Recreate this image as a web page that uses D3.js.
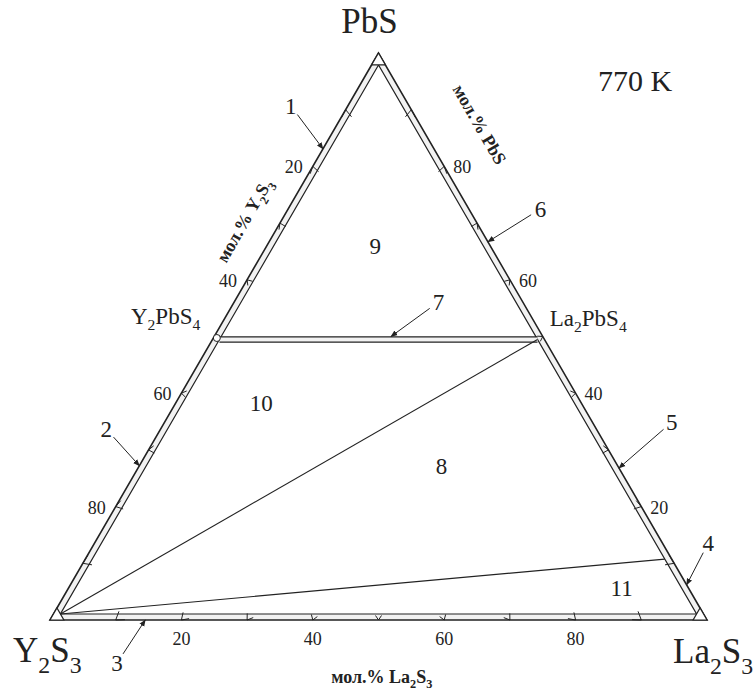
<!DOCTYPE html>
<html>
<head>
<meta charset="utf-8">
<script src="https://cdn.jsdelivr.net/npm/d3@7"></script>
<style>
body { margin: 0; background: #fff; }
svg text { font-family: "Liberation Serif", "DejaVu Serif", serif; fill: #222; }
</style>
</head>
<body>
<div id="chart"></div>
<script>
// compositions are [mol.% PbS, mol.% La2S3]; Y2S3 is the rest
var corners = ["PbS", "Y2S3", "La2S3"];
var cornerComp = [[100, 0], [0, 0], [0, 100]];
var tickSteps = [10, 20, 30, 40, 50, 60, 70, 80, 90];
var tickLabels = [20, 40, 60, 80];

var compounds = ["Y2PbS4", "La2PbS4"];
var compoundComp = [[50, 0], [50, 50]];

var tieFrom = [[50, 0], [0, 0], [0, 0]];
var tieTo = [[50, 50], [50, 50], [10, 90]];
var tieDouble = [true, false, false];

var fieldNames = ["9", "10", "8", "11"];
var fieldComp = [[66, 16.5], [38.3, 13], [27.2, 46], [5.6, 84.2]];

var arrowNames = ["1", "2", "3", "4", "5", "6", "7"];
var arrowTarget = [[83.1, 0], [27.2, 0], [0, 14.5], [6.2, 93.8], [26.8, 73.2], [66.7, 33.3], [50, 26.9]];
var arrowLabel = [[90.7, -8.7], [33.7, -8.3], [-7.6, 14], [13.6, 93.4], [34.9, 77.2], [72.5, 38.4], [56.1, 31.1]];

var temperature = "770 K";

var W = 753, H = 691, band = 6;
var serif = "Liberation Serif";

var svg = d3.select("#chart").append("svg").attr("width", W).attr("height", H)
  .attr("font-family", serif);

var xs = d3.scaleLinear().domain([0, 100]).range([50, 707]);
var ys = d3.scaleLinear().domain([0, 100]).range([620, 53]);

function pt(c) { return [xs(c[1] + c[0] / 2), ys(c[0])]; }

var A = pt(cornerComp[0]), B = pt(cornerComp[1]), C = pt(cornerComp[2]);
function dist(p, q) { return Math.hypot(p[0] - q[0], p[1] - q[1]); }
var la = dist(B, C), lb = dist(C, A), lc = dist(A, B), per = la + lb + lc;
var I = [(la * A[0] + lb * B[0] + lc * C[0]) / per, (la * A[1] + lb * B[1] + lc * C[1]) / per];
var area = Math.abs((B[0] - A[0]) * (C[1] - A[1]) - (C[0] - A[0]) * (B[1] - A[1])) / 2;
var rIn = area / (per / 2);

// same point pulled inward by `inset` px (inner edge of the double border)
function ptIn(c, inset) {
  var p = pt(c), k = (rIn - inset) / rIn;
  return [I[0] + k * (p[0] - I[0]), I[1] + k * (p[1] - I[1])];
}

var line = d3.line();
var ink = "#222";

// outer and inner border, band slightly grey
var inner = cornerComp.map(function(c) { return ptIn(c, band); });
svg.append("path").attr("d", line([A, B, C]) + "Z" + line(inner) + "Z")
  .attr("fill", "#f2f2f2").attr("fill-rule", "evenodd").attr("stroke", "none");
svg.append("path").attr("d", line([A, B, C]) + "Z").attr("fill", "none").attr("stroke", ink).attr("stroke-width", 1.6);
svg.append("path").attr("d", line(inner) + "Z").attr("fill", "none").attr("stroke", ink).attr("stroke-width", 1.2);

// little triangles cut at each corner
var outer = [A, B, C];
outer.forEach(function(V, i) {
  var V1 = outer[(i + 1) % 3], V2 = outer[(i + 2) % 3];
  var u1 = [(V1[0] - V[0]) / dist(V, V1), (V1[1] - V[1]) / dist(V, V1)];
  var u2 = [(V2[0] - V[0]) / dist(V, V2), (V2[1] - V[1]) / dist(V, V2)];
  var m = Math.hypot((u1[0] + u2[0]) / 2, (u1[1] + u2[1]) / 2);
  var t = dist(V, inner[i]) / m;
  svg.append("path")
    .attr("d", line([V, [V[0] + t * u1[0], V[1] + t * u1[1]], [V[0] + t * u2[0], V[1] + t * u2[1]]]) + "Z")
    .attr("fill", "#fff").attr("stroke", ink).attr("stroke-width", 1.2);
});

// chevron ticks inside the band
var sides = [
  { comp: function(v) { return [0, v]; } },          // bottom, La2S3
  { comp: function(v) { return [100 - v, 0]; } },    // left, Y2S3
  { comp: function(v) { return [v, 100 - v]; } }     // right, PbS
];
sides.forEach(function(s) {
  tickSteps.forEach(function(v) {
    var p = ptIn(s.comp(v), band * 0.5);
    var q = ptIn(s.comp(v), band * 0.5 - 3);
    var n = [q[0] - p[0], q[1] - p[1]];
    var d = [-n[1], n[0]];
    var base = ptIn(s.comp(v), band * 0.5 + 1.5);
    svg.append("path")
      .attr("d", line([[base[0] + d[0], base[1] + d[1]], q, [base[0] - d[0], base[1] - d[1]]]))
      .attr("fill", "none").attr("stroke", ink).attr("stroke-width", 1);
  });
});

// tie lines
tieFrom.forEach(function(f, i) {
  var p = ptIn(f, band), q = ptIn(tieTo[i], band);
  if (tieDouble[i]) {
    svg.append("path").attr("d", line([[p[0], p[1] - 2.6], [q[0], q[1] - 2.6], [q[0], q[1] + 2.6], [p[0], p[1] + 2.6]]) + "Z")
      .attr("fill", "#f2f2f2").attr("stroke", "none");
    [-2.6, 2.6].forEach(function(o) {
      svg.append("path").attr("d", line([[p[0], p[1] + o], [q[0], q[1] + o]]))
        .attr("stroke", ink).attr("stroke-width", 1.2);
    });
  } else {
    svg.append("path").attr("d", line([p, q])).attr("stroke", ink).attr("stroke-width", 1.1);
  }
});

// compound node on the Y2S3-PbS side
var node = ptIn(compoundComp[0], band * 0.5);
svg.append("circle").attr("cx", node[0]).attr("cy", node[1]).attr("r", 3.5)
  .attr("fill", "#fff").attr("stroke", ink).attr("stroke-width", 1);

// text with subscript digits
function chem(text, s, fs) {
  var parts = s.match(/\d+|\D+/g), down = false, sh = fs * 0.3;
  parts.forEach(function(part) {
    var t = text.append("tspan").text(part);
    if (/^\d+$/.test(part)) {
      t.attr("font-size", fs * 0.68).attr("dy", down ? 0 : sh);
      down = true;
    } else {
      t.attr("dy", down ? -sh : 0);
      down = false;
    }
  });
  return text;
}

function txt() { return svg.append("text").attr("font-family", serif).attr("fill", ink); }

// corner labels
var cornerOffsets = [[-9, -20, "middle"], [-37, 42, "start"], [-34, 43, "start"]];
corners.forEach(function(name, i) {
  var p = outer[i], o = cornerOffsets[i];
  var t = txt().attr("x", p[0] + o[0]).attr("y", p[1] + o[1])
    .attr("text-anchor", o[2]).attr("font-size", 35);
  chem(t, name, 35);
});

txt().attr("x", 598).attr("y", 91).attr("font-size", 30).text(temperature);

// compound labels
var compoundOffsets = [[-14, -13, "end"], [7, -11, "start"]];
compounds.forEach(function(name, i) {
  var p = pt(compoundComp[i]), o = compoundOffsets[i];
  var t = txt().attr("x", p[0] + o[0]).attr("y", p[1] + o[1])
    .attr("text-anchor", o[2]).attr("font-size", 23);
  chem(t, name, 23);
});

// tick labels
tickLabels.forEach(function(v) {
  var b = pt([0, v]);
  txt().attr("x", b[0]).attr("y", b[1] + 25).attr("text-anchor", "middle")
    .attr("font-size", 18).text(v);
  var l = pt([100 - v, 0]);
  txt().attr("x", l[0] - 10).attr("y", l[1] + 7).attr("text-anchor", "end")
    .attr("font-size", 18).text(v);
  var r = pt([v, 100 - v]);
  txt().attr("x", r[0] + 9).attr("y", r[1] + 7).attr("text-anchor", "start")
    .attr("font-size", 18).text(v);
});

// axis titles
var titles = [
  { s: "мол.% La2S3", c: [-10.2, 55.6], rot: 0 },
  { s: "мол.% Y2S3", c: [70.4, -5.5], rot: -60 },
  { s: "мол.% PbS", c: [87.3, 21.6], rot: 60 }
];
titles.forEach(function(d) {
  var p = pt(d.c);
  var t = txt().attr("text-anchor", "middle").attr("font-weight", "bold")
    .attr("font-size", 18)
    .attr("transform", "translate(" + p[0] + "," + p[1] + ") rotate(" + d.rot + ")")
    .attr("y", 5);
  chem(t, d.s, 18);
});

// field numbers
fieldNames.forEach(function(name, i) {
  var p = pt(fieldComp[i]);
  txt().attr("x", p[0]).attr("y", p[1] + 8).attr("text-anchor", "middle")
    .attr("font-size", 23).text(name);
});

// numbered arrows
svg.append("defs").append("marker").attr("id", "head")
  .attr("viewBox", "0 0 10 10").attr("refX", 9).attr("refY", 5)
  .attr("markerWidth", 7).attr("markerHeight", 7).attr("orient", "auto")
  .attr("markerUnits", "userSpaceOnUse")
  .append("path").attr("d", "M0,1 L10,5 L0,9 Z").attr("fill", ink);

arrowNames.forEach(function(name, i) {
  var lp = pt(arrowLabel[i]), tp = pt(arrowTarget[i]);
  txt().attr("x", lp[0]).attr("y", lp[1] + 8).attr("text-anchor", "middle")
    .attr("font-size", 23).text(name);
  var dx = tp[0] - lp[0], dy = tp[1] - lp[1], L = Math.hypot(dx, dy);
  var s = [lp[0] + dx / L * 11, lp[1] + dy / L * 11];
  svg.append("path").attr("d", line([s, tp])).attr("stroke", ink).attr("stroke-width", 1)
    .attr("marker-end", "url(#head)");
});
</script>
</body>
</html>
